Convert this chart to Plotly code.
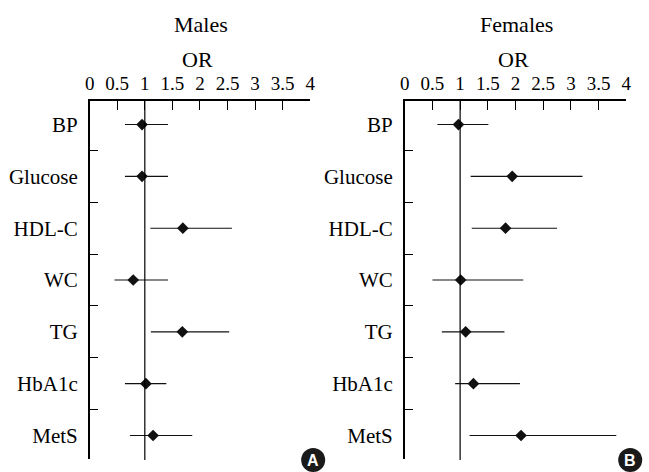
import plotly.graph_objects as go

categories = ["BP", "Glucose", "HDL-C", "WC", "TG", "HbA1c", "MetS"]
male_or = [0.95, 0.95, 1.69, 0.79, 1.68, 1.02, 1.15]
male_lo = [0.64, 0.64, 1.10, 0.45, 1.11, 0.64, 0.73]
male_hi = [1.42, 1.42, 2.58, 1.42, 2.53, 1.39, 1.86]
female_or = [0.97, 1.94, 1.82, 1.01, 1.10, 1.24, 2.10]
female_lo = [0.59, 1.19, 1.21, 0.50, 0.67, 0.91, 1.17]
female_hi = [1.51, 3.21, 2.75, 2.14, 1.80, 2.08, 3.82]
x_ticks = [0, 0.5, 1, 1.5, 2, 2.5, 3, 3.5, 4]
x_tick_text = ["0", "0.5", "1", "1.5", "2", "2.5", "3", "3.5", "4"]
panel_titles = ["Males", "Females"]
panel_letters = ["A", "B"]

W, H = 649, 472
FONT = "Liberation Serif"
fig = go.Figure()

panels = [(male_or, male_lo, male_hi), (female_or, female_lo, female_hi)]
domains = [[86 / W, 310 / W], [406 / W, 631 / W]]

for i, (orv, lo, hi) in enumerate(panels):
    xa = "x" if i == 0 else "x2"
    ya = "y" if i == 0 else "y2"
    fig.add_trace(go.Scatter(
        x=orv, y=categories, mode="markers", xaxis=xa, yaxis=ya,
        marker=dict(symbol="diamond", size=9, color="#111111"),
        error_x=dict(type="data", symmetric=False,
                     array=[h - o for h, o in zip(hi, orv)],
                     arrayminus=[o - l for o, l in zip(orv, lo)],
                     thickness=1.1, width=0, color="#111111"),
        showlegend=False, hoverinfo="skip"))

axis_x = dict(range=[0, 4], side="top", tickvals=x_ticks, ticktext=x_tick_text,
              ticks="inside", ticklen=9, tickwidth=1.2, tickcolor="black",
              showline=True, linecolor="black", linewidth=1.5, showgrid=False,
              zeroline=False, tickfont=dict(family=FONT, size=19, color="black"),
              ticklabelstandoff=2)
axis_y = dict(type="category", categoryorder="array", categoryarray=categories,
              autorange="reversed", tickson="boundaries", ticks="inside",
              ticklen=9, tickwidth=1.2, tickcolor="black", showline=True,
              linecolor="black", linewidth=1.5, showgrid=False, zeroline=False,
              tickfont=dict(family=FONT, size=21, color="black"),
              ticklabelstandoff=6)

fig.update_layout(
    xaxis=dict(domain=domains[0], anchor="y", **axis_x),
    xaxis2=dict(domain=domains[1], anchor="y2", **axis_x),
    yaxis=dict(domain=[0, 1], anchor="x", **axis_y),
    yaxis2=dict(domain=[0, 1], anchor="x2", **axis_y),
    width=W, height=H, margin=dict(l=0, r=0, t=101, b=13),
    plot_bgcolor="white", paper_bgcolor="white",
)

shapes = []
annotations = []
plot_h = H - 101 - 13
for i in range(2):
    xa = "x" if i == 0 else "x2"
    shapes.append(dict(type="line", xref=xa, yref=("y" if i == 0 else "y2") + " domain",
                       x0=1, x1=1, y0=-0.003, y1=1, line=dict(color="black", width=1.2)))
    cx = (domains[i][0] + domains[i][1]) / 2
    annotations.append(dict(text=panel_titles[i], xref="paper", yref="paper",
                            x=cx + 1 / W, y=1 + (101 - 25) / plot_h, showarrow=False,
                            xanchor="center", yanchor="middle",
                            font=dict(family=FONT, size=22, color="black")))
    annotations.append(dict(text="OR", xref="paper", yref="paper",
                            x=cx - 2 / W, y=1 + (101 - 59) / plot_h, showarrow=False,
                            xanchor="center", yanchor="middle",
                            font=dict(family=FONT, size=22, color="black")))
    bx = (313 if i == 0 else 635) / W
    by = (459 - 460) / plot_h
    shapes.append(dict(type="circle", xref="paper", yref="paper",
                       xsizemode="pixel", ysizemode="pixel", xanchor=bx, yanchor=by,
                       x0=-12, x1=12, y0=-12, y1=12,
                       fillcolor="#1a1a1a", line=dict(width=0)))
    annotations.append(dict(text="<b>" + panel_letters[i] + "</b>", xref="paper", yref="paper",
                            x=bx, y=by, showarrow=False, xanchor="center", yanchor="middle",
                            font=dict(family="Liberation Sans", size=16, color="white")))

fig.update_layout(shapes=shapes, annotations=annotations)
fig.write_html("out.html", config={"displayModeBar": False},
               post_script="document.body.style.margin='0';document.body.style.overflow='hidden';")
